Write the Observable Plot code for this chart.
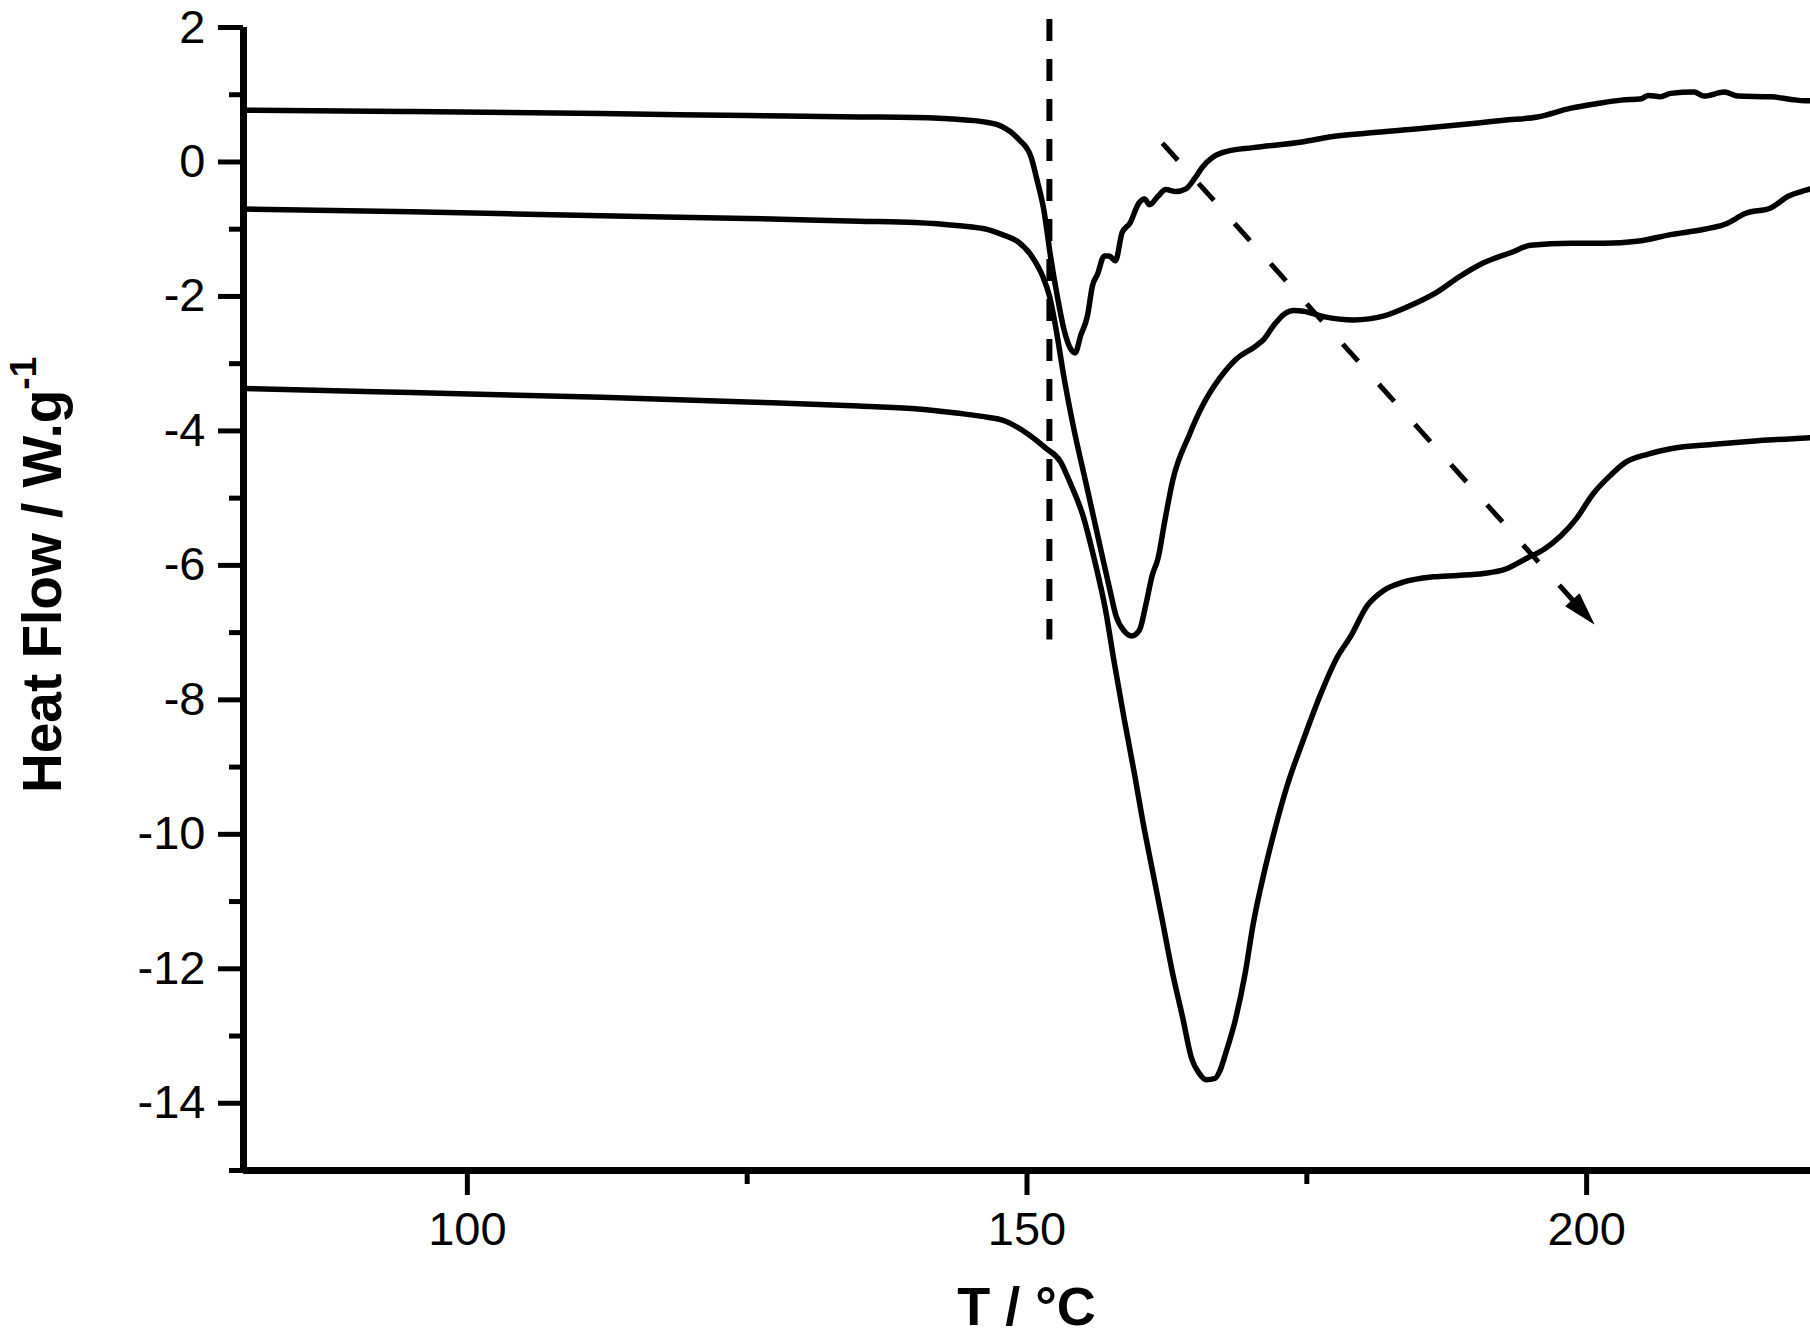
<!DOCTYPE html>
<html>
<head>
<meta charset="utf-8">
<script src="https://cdn.jsdelivr.net/npm/d3@7"></script>
<script src="https://cdn.jsdelivr.net/npm/@observablehq/plot@0.6"></script>
<style>
html, body { margin: 0; padding: 0; background: #fff; overflow: hidden; }
#chart svg { display: block; }
</style>
</head>
<body>
<div id="chart"></div>
<script>
// ---- tick values ----
const xTicksMajor = [100, 150, 200];
const xTicksMinor = [125, 175];
const yTicksMajor = [2, 0, -2, -4, -6, -8, -10, -12, -14];
const yTicksMinor = [1, -1, -3, -5, -7, -9, -11, -13, -15];

// ---- curve A (top) ----
const tempA = [80, 95, 112, 125, 135, 140, 143.7, 146, 147.8, 149.3,
  150.35, 150.9, 151.5, 152.1, 152.7, 153.3, 153.9, 154.3, 154.8, 155.4,
  155.85, 156.3, 156.9, 157.35, 157.9, 158.5, 159.2, 160.0, 160.5, 160.95,
  161.7, 162.4, 163.3, 164.2, 165.0, 165.7, 166.6, 167.8, 170.2, 174.7,
  177.0, 180.5, 185.4, 190.3, 192.6, 195.6, 198.6, 201.0, 203.1, 204.9,
  205.5, 206.6, 207.5, 209.6, 210.5, 212.3, 213.5, 216.5, 218.3, 219.6, 220];
const heatA = [0.77, 0.75, 0.72, 0.69, 0.67, 0.66, 0.635, 0.60, 0.525, 0.33,
  0.08, -0.27, -0.71, -1.40, -1.99, -2.49, -2.78, -2.84, -2.58, -2.29,
  -1.84, -1.67, -1.40, -1.40, -1.47, -1.05, -0.91, -0.61, -0.55, -0.635,
  -0.51, -0.41, -0.44, -0.40, -0.24, -0.07, 0.07, 0.155, 0.213, 0.30,
  0.37, 0.43, 0.50, 0.58, 0.62, 0.67, 0.80, 0.87, 0.92, 0.94,
  0.99, 0.97, 1.02, 1.04, 0.98, 1.04, 0.98, 0.97, 0.93, 0.91, 0.91];

// ---- curve B (middle) ----
const tempB = [80, 95, 112, 125, 135, 140, 143.7, 146.6, 147.8, 149.3,
  150.5, 151.4, 152.0, 152.6, 153.3, 154.1, 155.3, 156.4, 156.8, 157.4,
  157.95, 158.7, 159.35, 160.05, 160.6, 161.2, 161.7, 162.3, 163.0, 164.5,
  165.7, 167.2, 168.7, 170.5, 171.2, 172.0, 173.0, 173.8, 174.7, 176.5,
  179.2, 181.9, 184.2, 186.6, 188.7, 190.8, 193.2, 195.0, 198.6, 201.6,
  204.5, 207.5, 210.5, 212.6, 214.1, 216.5, 218.0, 219.6, 220];
const heatB = [-0.70, -0.74, -0.80, -0.84, -0.88, -0.90, -0.945, -1.01, -1.08, -1.20,
  -1.42, -1.70, -1.99, -2.49, -3.20, -3.90, -4.80, -5.62, -5.92, -6.36,
  -6.75, -6.98, -7.05, -6.96, -6.60, -6.14, -5.9, -5.35, -4.75, -4.06,
  -3.62, -3.22, -2.93, -2.73, -2.63, -2.44, -2.26, -2.21, -2.22, -2.30,
  -2.35, -2.29, -2.14, -1.94, -1.70, -1.50, -1.35, -1.24, -1.21, -1.21,
  -1.18, -1.08, -1.00, -0.91, -0.77, -0.68, -0.51, -0.42, -0.40];

// ---- curve C (bottom) ----
const tempC = [80, 95, 112, 125, 135, 140, 143.7, 146.6, 147.8, 150.2,
  151.7, 153.0, 153.8, 155.0, 156.0, 157.0, 157.8, 158.7, 159.6, 160.35,
  161.2, 162.1, 163.0, 163.9, 164.7, 165.4, 166.0, 166.8, 167.2, 167.8,
  168.6, 169.5, 170.2, 171.1, 172.0, 173.2, 174.7, 176.2, 177.7, 178.9,
  180.4, 181.9, 183.6, 186.3, 188.5, 190.8, 192.7, 194.7, 196.2, 197.7,
  199.1, 200.6, 202.1, 203.5, 205.5, 207.5, 211.4, 215.3, 220];
const heatC = [-3.37, -3.43, -3.50, -3.57, -3.63, -3.67, -3.735, -3.80, -3.84, -4.06,
  -4.26, -4.46, -4.75, -5.26, -5.90, -6.65, -7.45, -8.30, -9.10, -9.81,
  -10.53, -11.29, -12.06, -12.72, -13.33, -13.56, -13.65, -13.63, -13.53, -13.23,
  -12.77, -12.06, -11.34, -10.63, -10.02, -9.30, -8.59, -7.93, -7.37, -7.06,
  -6.60, -6.37, -6.25, -6.17, -6.15, -6.12, -6.06, -5.89, -5.76, -5.56,
  -5.30, -4.93, -4.665, -4.465, -4.346, -4.266, -4.20, -4.147, -4.10];

// ---- annotations ----
const onsetLine = [{T: 152.0, top: 2.12, bottom: -7.11}];
const trendArrow = {T1: 162.1, V1: 0.28, T2: 200.6, V2: -6.86};

// ---- layout ----
const W = 1810, H = 1337;
const mL = 243, mR = 0, mT = 27, mB = 167;
const xDomain = [80, 220], yDomain = [-15, 2];

const toRows = (ts, vs) => ts.map((t, i) => ({T: t, V: vs[i]}));
const curves = [toRows(tempA, heatA), toRows(tempB, heatB), toRows(tempC, heatC)];

// arrow geometry in pixel space for shaft length and head rotation
const kx = (W - mL - mR) / (xDomain[1] - xDomain[0]);
const ky = (H - mT - mB) / (yDomain[1] - yDomain[0]);
const sx = (trendArrow.T2 - trendArrow.T1) * kx;
const sy = (trendArrow.V1 - trendArrow.V2) * ky;
const L = Math.hypot(sx, sy);
const headLen = 31;
const f = (L - headLen + 4) / L;
const shaft = [{
  x1: trendArrow.T1, y1: trendArrow.V1,
  x2: trendArrow.T1 + (trendArrow.T2 - trendArrow.T1) * f,
  y2: trendArrow.V1 + (trendArrow.V2 - trendArrow.V1) * f
}];
const headAngle = Math.atan2(sx, -sy) * 180 / Math.PI;
const headSymbol = {
  draw(ctx) {
    ctx.moveTo(0, 0);
    ctx.lineTo(9, headLen);
    ctx.lineTo(-9, headLen);
    ctx.closePath();
  }
};

const fmt = d => String(d);

const plot = Plot.plot({
  width: W, height: H,
  marginLeft: mL, marginRight: mR, marginTop: mT, marginBottom: mB,
  x: {domain: xDomain, label: null},
  y: {domain: yDomain, label: null},
  style: {
    background: "white", color: "black",
    fontFamily: "'Liberation Sans', Arial, Helvetica, sans-serif",
    fontSize: "47px"
  },
  marks: [
    // axes ticks and labels
    Plot.axisX(xTicksMajor, {tickSize: 25, tickPadding: 16, strokeWidth: 5, tickFormat: fmt, label: null}),
    Plot.axisX(xTicksMinor, {tickSize: 14, strokeWidth: 5, tickFormat: () => "", label: null}),
    Plot.axisY(yTicksMajor, {tickSize: 25, tickPadding: 13, strokeWidth: 5, tickFormat: fmt, label: null}),
    Plot.axisY(yTicksMinor, {tickSize: 14, strokeWidth: 5, tickFormat: () => "", label: null}),
    // frame lines
    Plot.ruleX([xDomain[0]], {strokeWidth: 7}),
    Plot.ruleY([yDomain[0]], {strokeWidth: 7}),
    // curves
    ...curves.map(c => Plot.line(c, {x: "T", y: "V", stroke: "black", strokeWidth: 5.5, curve: "monotone-x", strokeLinejoin: "round"})),
    // onset dashed line
    Plot.ruleX(onsetLine, {x: "T", y1: "top", y2: "bottom", stroke: "black", strokeWidth: 6, strokeDasharray: "22,18"}),
    // dashed trend arrow
    Plot.link(shaft, {x1: "x1", y1: "y1", x2: "x2", y2: "y2", stroke: "black", strokeWidth: 5, strokeDasharray: "23,31"}),
    Plot.dot([trendArrow], {x: "T2", y: "V2", symbol: headSymbol, r: 10, rotate: headAngle, fill: "black", stroke: "black", strokeWidth: 1})
  ]
});

document.getElementById("chart").appendChild(plot);

const svg = d3.select(plot);
// drop empty minor-tick labels
svg.selectAll("text").filter(function() { return this.textContent === ""; }).remove();

// axis titles
svg.append("text")
  .attr("x", (mL + W - mR) / 2).attr("y", 1325)
  .attr("text-anchor", "middle")
  .attr("font-weight", "bold").attr("font-size", 54)
  .attr("fill", "black")
  .text("T / °C");

const yl = svg.append("text")
  .attr("transform", "translate(61,793) rotate(-90)")
  .attr("text-anchor", "start")
  .attr("font-weight", "bold").attr("font-size", 55)
  .attr("fill", "black");
yl.append("tspan").text("Heat Flow / W.g");
yl.append("tspan").attr("dy", -25).attr("font-size", 37).text("-1");
</script>
</body>
</html>
